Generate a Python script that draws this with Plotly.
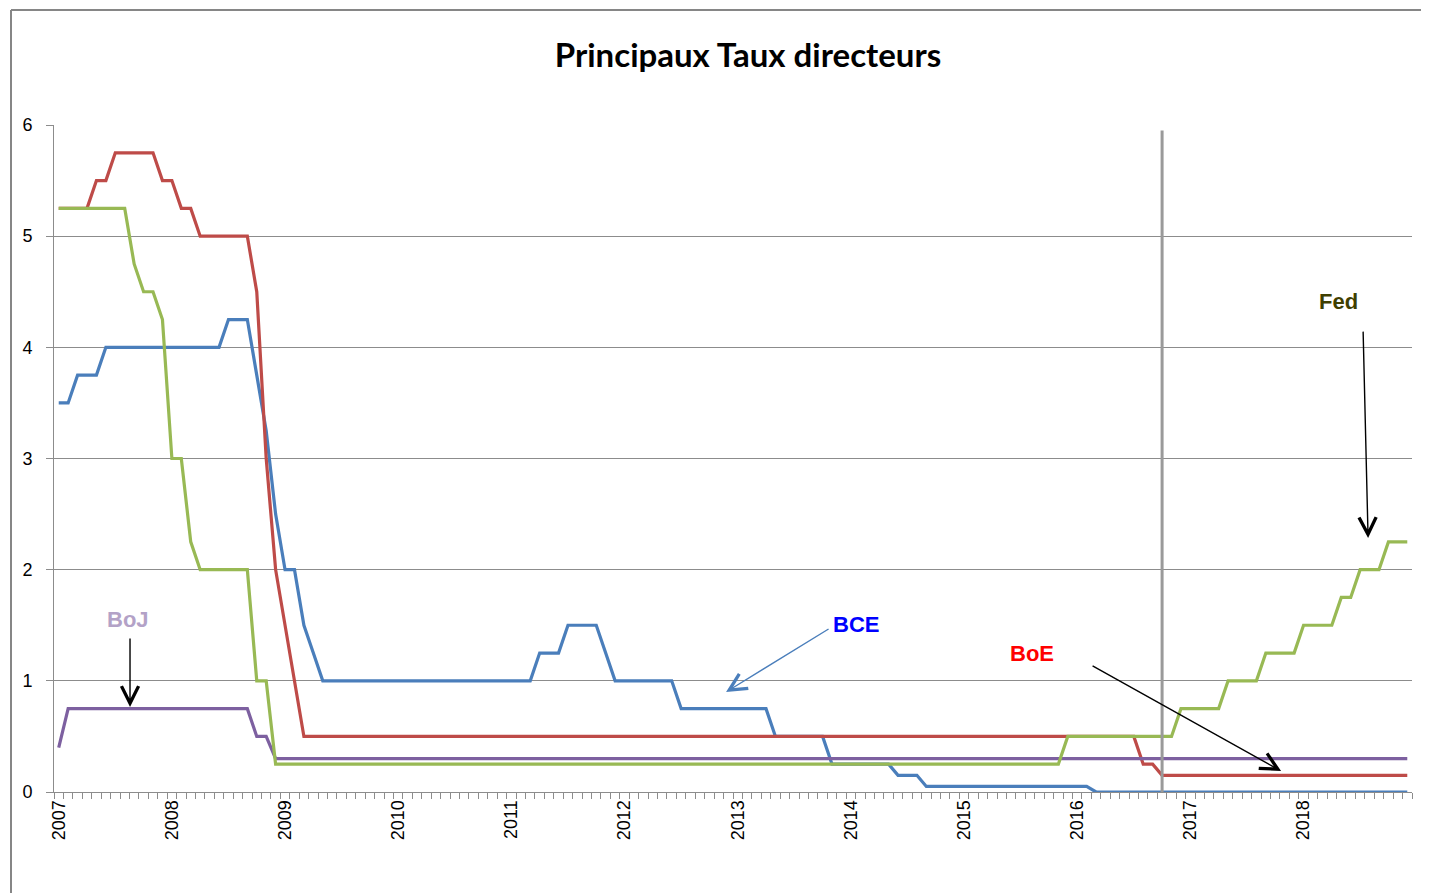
import plotly.graph_objects as go

# ---- data (monthly, Jan 2007 .. Dec 2018) ----
years = ["2007", "2008", "2009", "2010", "2011", "2012",
         "2013", "2014", "2015", "2016", "2017", "2018"]
months = [f"{y}-{m:02d}" for y in years for m in range(1, 13)]

bce = [
    3.5, 3.5, 3.75, 3.75, 3.75, 4.0, 4.0, 4.0, 4.0, 4.0, 4.0, 4.0,            # 2007
    4.0, 4.0, 4.0, 4.0, 4.0, 4.0, 4.25, 4.25, 4.25, 3.75, 3.25, 2.5,          # 2008
    2.0, 2.0, 1.5, 1.25, 1.0, 1.0, 1.0, 1.0, 1.0, 1.0, 1.0, 1.0,              # 2009
    1.0, 1.0, 1.0, 1.0, 1.0, 1.0, 1.0, 1.0, 1.0, 1.0, 1.0, 1.0,               # 2010
    1.0, 1.0, 1.0, 1.25, 1.25, 1.25, 1.5, 1.5, 1.5, 1.5, 1.25, 1.0,           # 2011
    1.0, 1.0, 1.0, 1.0, 1.0, 1.0, 0.75, 0.75, 0.75, 0.75, 0.75, 0.75,         # 2012
    0.75, 0.75, 0.75, 0.75, 0.5, 0.5, 0.5, 0.5, 0.5, 0.5, 0.25, 0.25,         # 2013
    0.25, 0.25, 0.25, 0.25, 0.25, 0.15, 0.15, 0.15, 0.05, 0.05, 0.05, 0.05,   # 2014
    0.05, 0.05, 0.05, 0.05, 0.05, 0.05, 0.05, 0.05, 0.05, 0.05, 0.05, 0.05,   # 2015
    0.05, 0.05, 0.0, 0.0, 0.0, 0.0, 0.0, 0.0, 0.0, 0.0, 0.0, 0.0,             # 2016
    0.0, 0.0, 0.0, 0.0, 0.0, 0.0, 0.0, 0.0, 0.0, 0.0, 0.0, 0.0,               # 2017
    0.0, 0.0, 0.0, 0.0, 0.0, 0.0, 0.0, 0.0, 0.0, 0.0, 0.0, 0.0,               # 2018
]

boe = [
    5.25, 5.25, 5.25, 5.25, 5.5, 5.5, 5.75, 5.75, 5.75, 5.75, 5.75, 5.5,      # 2007
    5.5, 5.25, 5.25, 5.0, 5.0, 5.0, 5.0, 5.0, 5.0, 4.5, 3.0, 2.0,             # 2008
    1.5, 1.0, 0.5, 0.5, 0.5, 0.5, 0.5, 0.5, 0.5, 0.5, 0.5, 0.5,               # 2009
    0.5, 0.5, 0.5, 0.5, 0.5, 0.5, 0.5, 0.5, 0.5, 0.5, 0.5, 0.5,               # 2010
    0.5, 0.5, 0.5, 0.5, 0.5, 0.5, 0.5, 0.5, 0.5, 0.5, 0.5, 0.5,               # 2011
    0.5, 0.5, 0.5, 0.5, 0.5, 0.5, 0.5, 0.5, 0.5, 0.5, 0.5, 0.5,               # 2012
    0.5, 0.5, 0.5, 0.5, 0.5, 0.5, 0.5, 0.5, 0.5, 0.5, 0.5, 0.5,               # 2013
    0.5, 0.5, 0.5, 0.5, 0.5, 0.5, 0.5, 0.5, 0.5, 0.5, 0.5, 0.5,               # 2014
    0.5, 0.5, 0.5, 0.5, 0.5, 0.5, 0.5, 0.5, 0.5, 0.5, 0.5, 0.5,               # 2015
    0.5, 0.5, 0.5, 0.5, 0.5, 0.5, 0.5, 0.25, 0.25, 0.15, 0.15, 0.15,          # 2016
    0.15, 0.15, 0.15, 0.15, 0.15, 0.15, 0.15, 0.15, 0.15, 0.15, 0.15, 0.15,   # 2017
    0.15, 0.15, 0.15, 0.15, 0.15, 0.15, 0.15, 0.15, 0.15, 0.15, 0.15, 0.15,   # 2018
]

boj = [
    0.4, 0.75, 0.75, 0.75, 0.75, 0.75, 0.75, 0.75, 0.75, 0.75, 0.75, 0.75,    # 2007
    0.75, 0.75, 0.75, 0.75, 0.75, 0.75, 0.75, 0.75, 0.75, 0.5, 0.5, 0.3,      # 2008
    0.3, 0.3, 0.3, 0.3, 0.3, 0.3, 0.3, 0.3, 0.3, 0.3, 0.3, 0.3,               # 2009
    0.3, 0.3, 0.3, 0.3, 0.3, 0.3, 0.3, 0.3, 0.3, 0.3, 0.3, 0.3,               # 2010
    0.3, 0.3, 0.3, 0.3, 0.3, 0.3, 0.3, 0.3, 0.3, 0.3, 0.3, 0.3,               # 2011
    0.3, 0.3, 0.3, 0.3, 0.3, 0.3, 0.3, 0.3, 0.3, 0.3, 0.3, 0.3,               # 2012
    0.3, 0.3, 0.3, 0.3, 0.3, 0.3, 0.3, 0.3, 0.3, 0.3, 0.3, 0.3,               # 2013
    0.3, 0.3, 0.3, 0.3, 0.3, 0.3, 0.3, 0.3, 0.3, 0.3, 0.3, 0.3,               # 2014
    0.3, 0.3, 0.3, 0.3, 0.3, 0.3, 0.3, 0.3, 0.3, 0.3, 0.3, 0.3,               # 2015
    0.3, 0.3, 0.3, 0.3, 0.3, 0.3, 0.3, 0.3, 0.3, 0.3, 0.3, 0.3,               # 2016
    0.3, 0.3, 0.3, 0.3, 0.3, 0.3, 0.3, 0.3, 0.3, 0.3, 0.3, 0.3,               # 2017
    0.3, 0.3, 0.3, 0.3, 0.3, 0.3, 0.3, 0.3, 0.3, 0.3, 0.3, 0.3,               # 2018
]

fed = [
    5.25, 5.25, 5.25, 5.25, 5.25, 5.25, 5.25, 5.25, 4.75, 4.5, 4.5, 4.25,     # 2007
    3.0, 3.0, 2.25, 2.0, 2.0, 2.0, 2.0, 2.0, 2.0, 1.0, 1.0, 0.25,             # 2008
    0.25, 0.25, 0.25, 0.25, 0.25, 0.25, 0.25, 0.25, 0.25, 0.25, 0.25, 0.25,   # 2009
    0.25, 0.25, 0.25, 0.25, 0.25, 0.25, 0.25, 0.25, 0.25, 0.25, 0.25, 0.25,   # 2010
    0.25, 0.25, 0.25, 0.25, 0.25, 0.25, 0.25, 0.25, 0.25, 0.25, 0.25, 0.25,   # 2011
    0.25, 0.25, 0.25, 0.25, 0.25, 0.25, 0.25, 0.25, 0.25, 0.25, 0.25, 0.25,   # 2012
    0.25, 0.25, 0.25, 0.25, 0.25, 0.25, 0.25, 0.25, 0.25, 0.25, 0.25, 0.25,   # 2013
    0.25, 0.25, 0.25, 0.25, 0.25, 0.25, 0.25, 0.25, 0.25, 0.25, 0.25, 0.25,   # 2014
    0.25, 0.25, 0.25, 0.25, 0.25, 0.25, 0.25, 0.25, 0.25, 0.25, 0.25, 0.5,    # 2015
    0.5, 0.5, 0.5, 0.5, 0.5, 0.5, 0.5, 0.5, 0.5, 0.5, 0.5, 0.75,              # 2016
    0.75, 0.75, 0.75, 0.75, 1.0, 1.0, 1.0, 1.0, 1.25, 1.25, 1.25, 1.25,       # 2017
    1.5, 1.5, 1.5, 1.5, 1.75, 1.75, 2.0, 2.0, 2.0, 2.25, 2.25, 2.25,          # 2018
]

series_names = ["BCE", "BoE", "BoJ", "Fed"]
series_colors = ["#4A7EBB", "#BE4B48", "#7D60A0", "#98B954"]
y_ticks = [0, 1, 2, 3, 4, 5, 6]
marker_month = "2016-10"   # vertical reference line

x = list(range(len(months)))

# page body has an 8px margin: figure is shifted, so compensate
OFF = 8
W, H = 1429 - OFF, 893 - OFF
PL, PR, PT, PB = 54, 1412, 125, 792   # plot area in page pixels

fig = go.Figure()
for name, vals, col in zip(series_names, [bce, boe, boj, fed], series_colors):
    fig.add_trace(go.Scatter(x=x, y=vals, mode="lines", name=name,
                             line=dict(color=col, width=3.2), hoverinfo="x+y"))

year_idx = [months.index(f"{y}-01") for y in years]

fig.update_layout(
    width=W, height=H,
    margin=dict(l=PL - OFF, r=W - (PR - OFF), t=PT - OFF, b=H - (PB - OFF), pad=0),
    paper_bgcolor="white", plot_bgcolor="white",
    showlegend=False,
    font=dict(family="Liberation Sans, Arial, sans-serif", color="#000000"),
    title=dict(text="Principaux Taux directeurs",
               font=dict(family="Lato, Carlito, sans-serif", size=33, weight="bold", color="#000000"),
               x=(748 - OFF) / W, xref="container", xanchor="center",
               y=1 - (55 - OFF) / H, yref="container", yanchor="middle"),
)

fig.update_xaxes(
    range=[-0.5, len(months) - 0.5],
    tickmode="array", tickvals=year_idx, ticktext=years,
    tickangle=-90, ticks="", ticklen=0,
    tickfont=dict(family="Liberation Sans, Arial, sans-serif", size=18, color="#000000"),
    showgrid=False, zeroline=False,
    showline=True, linecolor="#8C8C8C", linewidth=1,
    minor=dict(ticks="outside", tick0=-0.5, dtick=1, ticklen=6,
               tickcolor="#8C8C8C", tickwidth=1, showgrid=False),
    fixedrange=True,
)
fig.update_yaxes(
    range=[0, 6], tickmode="array", tickvals=y_ticks,
    ticks="outside", ticklen=7, tickcolor="#8C8C8C", tickwidth=1,
    ticklabelstandoff=10,
    tickfont=dict(family="Liberation Sans, Arial, sans-serif", size=18, color="#000000"),
    showgrid=True, gridcolor="#8C8C8C", gridwidth=1,
    zeroline=False, showline=True, linecolor="#8C8C8C", linewidth=1,
    fixedrange=True,
)

# vertical reference line
vx = months.index(marker_month)
fig.add_shape(type="line", xref="x", yref="y", x0=vx, x1=vx, y0=5.95, y1=-0.07,
              line=dict(color="#9A9A9A", width=3), layer="above")

# chart-area border (left and top edges visible)
pw, ph = PR - PL, PB - PT
bx = (11 - PL) / pw
by = (PB - 10) / ph
fig.add_shape(type="line", xref="paper", yref="paper",
              x0=bx, x1=bx, y0=-0.3, y1=by, line=dict(color="#868686", width=2))
fig.add_shape(type="line", xref="paper", yref="paper",
              x0=bx, x1=1.1, y0=by, y1=by, line=dict(color="#868686", width=2))

def px2x(px):
    return (px - 58.7) / 9.43

def px2y(py):
    return (792 - py) / 111.2

labels = [
    # text, colour, label centre (px), arrow tail (px), arrow tip (px), arrow colour
    ("BoJ", "#B3A2C7", (128, 619), (130, 637), (130, 707), "#000000"),
    ("BCE", "#0000FF", (856, 624), (830, 628), (726, 692), "#4A7EBB"),
    ("BoE", "#FF0000", (1032, 653), (1091, 665), (1281, 771), "#000000"),
    ("Fed", "#3F3F00", (1338, 301), (1363, 330), (1368, 538), "#000000"),
]
for text, tcol, (lx, ly), (tx, ty), (hx, hy), acol in labels:
    fig.add_annotation(x=px2x(lx), y=px2y(ly), xref="x", yref="y", text=text,
                       showarrow=False, xanchor="center", yanchor="middle",
                       font=dict(family="Liberation Sans, Arial, sans-serif",
                                 size=22, weight="bold", color=tcol))
    fig.add_annotation(x=px2x(hx), y=px2y(hy), xref="x", yref="y",
                       ax=px2x(tx), ay=px2y(ty), axref="x", ayref="y",
                       text="", showarrow=True, arrowhead=5, arrowsize=2.4,
                       arrowwidth=1.4, arrowcolor=acol, standoff=0)

fig.write_html("out.html")
